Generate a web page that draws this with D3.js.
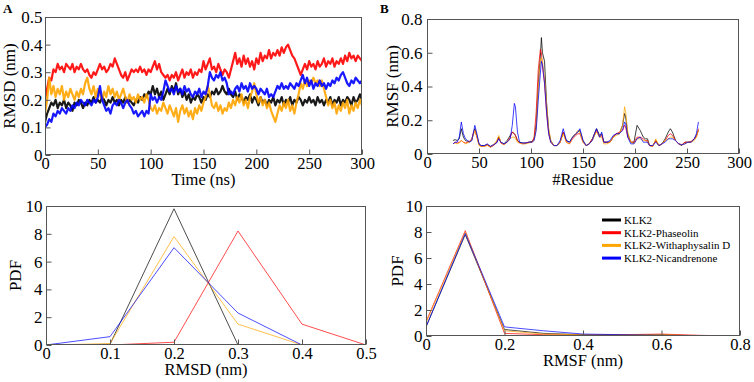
<!DOCTYPE html>
<html><head><meta charset="utf-8">
<script src="https://cdn.jsdelivr.net/npm/d3@7"></script>
<style>
body{margin:0;background:#fff;}
</style></head>
<body><svg id="c" width="754" height="382" font-family="'Liberation Serif','Times New Roman',serif"></svg>
<script>
const seriesNames = ["KLK2","KLK2-Phaseolin","KLK2-Withaphysalin D","KLK2-Nicandrenone"];
const seriesColors = ["#000000","#ff0000","#ffa500","#0000ff"];

// Panel A: RMSD vs time, one value every 2 ns (0..300)
const timeStepNs = 2;
const rmsdKLK2 = [
0.12,0.15,0.17,0.19,0.18,0.20,0.17,0.19,0.18,0.20,
0.17,0.19,0.18,0.16,0.19,0.18,0.20,0.19,0.17,0.19,
0.18,0.20,0.19,0.21,0.19,0.20,0.19,0.21,0.20,0.18,
0.20,0.19,0.21,0.19,0.20,0.18,0.20,0.19,0.21,0.19,
0.20,0.19,0.18,0.20,0.19,0.21,0.20,0.22,0.21,0.23,
0.22,0.25,0.22,0.24,0.21,0.23,0.20,0.22,0.24,0.22,
0.25,0.23,0.26,0.22,0.24,0.21,0.23,0.20,0.22,0.19,
0.21,0.20,0.22,0.21,0.19,0.21,0.20,0.22,0.21,0.23,
0.22,0.24,0.22,0.23,0.25,0.23,0.22,0.24,0.22,0.21,
0.23,0.20,0.22,0.21,0.19,0.21,0.20,0.22,0.19,0.21,
0.20,0.18,0.21,0.19,0.20,0.18,0.20,0.19,0.21,0.18,
0.20,0.19,0.21,0.18,0.20,0.19,0.21,0.18,0.20,0.19,
0.21,0.20,0.18,0.20,0.19,0.21,0.19,0.20,0.18,0.21,
0.19,0.20,0.18,0.20,0.19,0.21,0.18,0.20,0.19,0.21,
0.18,0.20,0.19,0.21,0.20,0.18,0.21,0.19,0.20,0.22,
0.20];
const rmsdPhaseolin = [
0.20,0.24,0.28,0.27,0.31,0.30,0.33,0.31,0.32,0.30,
0.33,0.32,0.31,0.33,0.30,0.32,0.31,0.33,0.31,0.30,
0.31,0.29,0.28,0.30,0.29,0.31,0.33,0.31,0.32,0.30,
0.31,0.33,0.32,0.35,0.33,0.31,0.29,0.28,0.30,0.27,
0.29,0.31,0.30,0.31,0.30,0.32,0.30,0.31,0.29,0.31,
0.30,0.32,0.34,0.31,0.33,0.30,0.29,0.28,0.29,0.27,
0.29,0.28,0.30,0.27,0.29,0.31,0.28,0.30,0.29,0.31,
0.28,0.30,0.29,0.31,0.30,0.34,0.31,0.33,0.35,0.31,
0.32,0.30,0.33,0.31,0.29,0.31,0.30,0.28,0.31,0.34,
0.37,0.33,0.35,0.32,0.36,0.33,0.35,0.32,0.34,0.31,
0.35,0.33,0.37,0.34,0.36,0.35,0.38,0.35,0.37,0.36,
0.38,0.36,0.39,0.37,0.39,0.40,0.38,0.36,0.35,0.33,
0.31,0.29,0.31,0.33,0.31,0.34,0.32,0.33,0.31,0.34,
0.32,0.33,0.35,0.32,0.34,0.33,0.35,0.32,0.34,0.33,
0.35,0.33,0.36,0.34,0.37,0.35,0.36,0.34,0.36,0.35,
0.34];
const rmsdWithaphysalin = [
0.15,0.20,0.28,0.22,0.25,0.21,0.24,0.22,0.25,0.20,
0.23,0.21,0.24,0.22,0.20,0.23,0.21,0.24,0.22,0.26,
0.28,0.24,0.22,0.25,0.21,0.24,0.22,0.20,0.23,0.21,
0.25,0.22,0.24,0.21,0.23,0.20,0.22,0.24,0.21,0.19,
0.22,0.20,0.21,0.19,0.22,0.20,0.21,0.19,0.22,0.20,
0.17,0.16,0.18,0.15,0.17,0.16,0.19,0.17,0.15,0.18,
0.16,0.14,0.17,0.12,0.16,0.18,0.15,0.17,0.14,0.16,
0.13,0.17,0.15,0.18,0.16,0.19,0.21,0.25,0.22,0.18,
0.17,0.19,0.16,0.18,0.15,0.17,0.16,0.19,0.17,0.20,
0.18,0.21,0.19,0.22,0.18,0.20,0.17,0.21,0.23,0.26,
0.22,0.19,0.21,0.18,0.20,0.17,0.19,0.16,0.14,0.12,
0.15,0.18,0.16,0.19,0.17,0.20,0.16,0.18,0.15,0.19,
0.22,0.26,0.24,0.27,0.25,0.27,0.26,0.28,0.26,0.27,
0.25,0.27,0.24,0.21,0.18,0.20,0.17,0.19,0.15,0.18,
0.16,0.19,0.17,0.20,0.15,0.18,0.16,0.19,0.17,0.20,
0.18];
const rmsdNicandrenone = [
0.10,0.11,0.13,0.12,0.15,0.14,0.16,0.15,0.17,0.16,
0.15,0.17,0.16,0.18,0.17,0.19,0.18,0.20,0.19,0.18,
0.20,0.19,0.18,0.20,0.19,0.21,0.25,0.20,0.18,0.16,
0.17,0.15,0.18,0.19,0.18,0.20,0.19,0.17,0.19,0.20,
0.18,0.17,0.15,0.16,0.14,0.15,0.16,0.14,0.16,0.15,
0.22,0.20,0.21,0.19,0.21,0.20,0.23,0.27,0.25,0.23,
0.24,0.22,0.25,0.23,0.24,0.22,0.25,0.23,0.24,0.22,
0.21,0.23,0.22,0.24,0.21,0.23,0.22,0.25,0.30,0.28,
0.27,0.29,0.28,0.30,0.27,0.28,0.26,0.22,0.23,0.22,
0.24,0.25,0.23,0.26,0.24,0.25,0.23,0.26,0.24,0.25,
0.24,0.22,0.24,0.23,0.22,0.24,0.21,0.22,0.21,0.23,
0.25,0.24,0.26,0.24,0.25,0.24,0.26,0.25,0.24,0.26,
0.25,0.27,0.29,0.26,0.28,0.25,0.27,0.24,0.26,0.25,
0.27,0.25,0.26,0.24,0.26,0.25,0.27,0.26,0.28,0.27,
0.29,0.30,0.28,0.26,0.25,0.27,0.26,0.28,0.27,0.26,
0.27];

// Panel B: RMSF per residue
const residues = [
25,27,29,31,33,35,37,39,41,43,
45,46,48,50,52,55,58,61,64,67,
69,71,74,77,80,82,84,85,87,89,
92,95,98,101,103,105,107,109,110,111,
113,115,117,119,122,125,128,131,134,137,
140,143,145,147,150,153,156,159,161,163,
166,168,170,173,176,179,182,185,188,190,
191,193,196,199,202,205,208,210,212,214,
217,220,223,226,229,232,234,236,239,242,
245,248,251,254,257,259,261];
const rmsfKLK2 = [
0.08,0.085,0.08,0.09,0.15,0.10,0.08,0.075,0.075,0.08,
0.13,0.15,0.11,0.06,0.05,0.05,0.055,0.045,0.055,0.07,
0.10,0.07,0.06,0.08,0.11,0.13,0.12,0.11,0.08,0.07,
0.065,0.065,0.07,0.075,0.09,0.18,0.42,0.58,0.69,0.60,
0.55,0.30,0.14,0.08,0.05,0.05,0.07,0.13,0.08,0.07,
0.10,0.12,0.13,0.14,0.08,0.05,0.06,0.09,0.12,0.15,
0.11,0.12,0.07,0.07,0.07,0.10,0.12,0.12,0.17,0.24,
0.22,0.12,0.07,0.07,0.17,0.14,0.10,0.09,0.09,0.05,
0.05,0.08,0.05,0.06,0.09,0.13,0.15,0.13,0.08,0.06,
0.05,0.07,0.07,0.07,0.09,0.11,0.14];
const rmsfPhaseolin = [
0.06,0.07,0.065,0.07,0.08,0.07,0.065,0.07,0.075,0.09,
0.13,0.14,0.10,0.055,0.045,0.045,0.055,0.04,0.05,0.07,
0.10,0.065,0.055,0.07,0.10,0.13,0.12,0.11,0.08,0.065,
0.06,0.065,0.07,0.07,0.10,0.25,0.50,0.62,0.60,0.52,
0.42,0.24,0.12,0.07,0.05,0.05,0.07,0.13,0.07,0.06,
0.09,0.11,0.12,0.12,0.07,0.05,0.06,0.09,0.11,0.14,
0.10,0.11,0.07,0.07,0.07,0.10,0.12,0.13,0.14,0.17,
0.16,0.10,0.07,0.07,0.10,0.10,0.09,0.08,0.08,0.05,
0.045,0.08,0.05,0.06,0.08,0.11,0.12,0.11,0.08,0.06,
0.055,0.07,0.07,0.075,0.09,0.10,0.15];
const rmsfWithaphysalin = [
0.06,0.065,0.06,0.065,0.08,0.07,0.06,0.065,0.07,0.085,
0.12,0.14,0.10,0.05,0.045,0.045,0.05,0.04,0.055,0.08,
0.11,0.07,0.055,0.07,0.09,0.10,0.10,0.09,0.07,0.065,
0.06,0.06,0.065,0.07,0.08,0.15,0.38,0.55,0.57,0.55,
0.45,0.30,0.15,0.08,0.05,0.05,0.07,0.12,0.07,0.06,
0.10,0.12,0.14,0.13,0.07,0.05,0.06,0.08,0.11,0.13,
0.10,0.10,0.06,0.06,0.07,0.10,0.11,0.12,0.17,0.28,
0.25,0.13,0.07,0.06,0.09,0.09,0.08,0.08,0.07,0.05,
0.045,0.09,0.05,0.06,0.08,0.09,0.10,0.10,0.08,0.06,
0.055,0.06,0.07,0.07,0.08,0.10,0.14];
const rmsfNicandrenone = [
0.06,0.07,0.07,0.10,0.19,0.12,0.09,0.08,0.07,0.08,
0.14,0.17,0.12,0.06,0.05,0.05,0.06,0.045,0.055,0.065,
0.09,0.07,0.06,0.07,0.09,0.17,0.30,0.28,0.13,0.07,
0.065,0.065,0.07,0.07,0.08,0.14,0.32,0.48,0.55,0.53,
0.42,0.25,0.12,0.07,0.05,0.05,0.08,0.15,0.08,0.07,
0.10,0.12,0.13,0.15,0.08,0.05,0.06,0.08,0.12,0.15,
0.10,0.13,0.07,0.07,0.08,0.11,0.12,0.12,0.14,0.19,
0.18,0.10,0.06,0.06,0.09,0.10,0.07,0.07,0.07,0.05,
0.05,0.07,0.05,0.06,0.07,0.09,0.09,0.09,0.08,0.06,
0.055,0.06,0.07,0.07,0.09,0.12,0.19];

// Panel C: PDF of RMSD
const pdfRmsdBins = [0,0.1,0.2,0.3,0.4,0.5];
const pdfRmsdKLK2 = [0,0.05,9.8,0,0,0];
const pdfRmsdPhaseolin = [0,0,0.2,8.2,1.5,0];
const pdfRmsdWithaphysalin = [0,0.1,7.8,1.5,0,0];
const pdfRmsdNicandrenone = [0,0.6,7.0,2.3,0,0];

// Panel D: PDF of RMSF
const pdfRmsfBins = [0,0.1,0.2,0.3,0.4,0.5,0.6,0.7,0.8];
const pdfRmsfKLK2 = [0.7,7.8,0.5,0.2,0.1,0.1,0.1,0,0];
const pdfRmsfPhaseolin = [1.1,8.1,0.2,0.1,0.05,0.1,0.15,0.05,0];
const pdfRmsfWithaphysalin = [1.0,8.0,0.4,0.15,0.1,0.1,0.1,0,0];
const pdfRmsfNicandrenone = [0.7,7.9,0.7,0.4,0.15,0.1,0.05,0,0];

const ticksA_x = [0,50,100,150,200,250,300], ticksA_y = [0,0.1,0.2,0.3,0.4,0.5];
const ticksB_x = [0,50,100,150,200,250,300], ticksB_y = [0,0.2,0.4,0.6,0.8];
const ticksC_x = [0,0.1,0.2,0.3,0.4,0.5], ticksC_y = [0,2,4,6,8,10];
const ticksD_x = [0,0.2,0.4,0.6,0.8], ticksD_y = [0,2,4,6,8,10];

const FONT = "'Liberation Serif','Times New Roman',serif";
const svg = d3.select("#c");
const fmt = v => v === 0 ? "0" : String(+v.toFixed(2));

function panel(o){
  const x = d3.scaleLinear().domain(o.xd).range([o.l,o.r]);
  const y = d3.scaleLinear().domain(o.yd).range([o.b,o.t]);
  const g = svg.append("g");
  const clipId = "clip"+o.id;
  svg.append("clipPath").attr("id",clipId).append("rect")
    .attr("x",o.l).attr("y",o.t-1).attr("width",o.r-o.l).attr("height",o.b-o.t+1);
  const lg = g.append("g").attr("clip-path",`url(#${clipId})`);
  o.series.forEach((s,i)=>{
    const line = d3.line().x((d,j)=>x(o.xs(j))).y(d=>y(d));
    lg.append("path").attr("d",line(s)).attr("fill","none")
      .attr("stroke",seriesColors[i]).attr("stroke-width",o.sw)
      .attr("stroke-opacity",o.op).attr("stroke-linejoin","round");
  });
  g.append("rect").attr("x",o.l+0.5).attr("y",o.t+0.5).attr("width",o.r-o.l-1).attr("height",o.b-o.t-1)
    .attr("fill","none").attr("stroke","#555").attr("stroke-width",1);
  const xa = d3.axisBottom(x).tickValues(o.xt).tickSize(-5).tickPadding(3).tickFormat(fmt);
  const gx = g.append("g").attr("transform",`translate(0,${o.b-0.5})`).call(xa);
  const ya = d3.axisLeft(y).tickValues(o.yt).tickSize(-5).tickPadding(o.yp).tickFormat(fmt);
  const gy = g.append("g").attr("transform",`translate(${o.l+0.5},0)`).call(ya);
  [gx,gy].forEach(a=>{
    a.attr("font-family",FONT).attr("font-size",17);
    a.select(".domain").remove();
    a.selectAll("line").attr("stroke","#555");
    a.selectAll("text").attr("fill","#000");
  });
  gx.attr("font-size",16.5);
  gx.selectAll("text").attr("dy","0.72em");
  g.append("text").attr("x",(o.l+o.r)/2).attr("y",o.xtY).attr("text-anchor","middle")
    .attr("font-size",16.5).text(o.xt_label);
  g.append("text").attr("transform",`translate(${o.ytX},${(o.t+o.b)/2}) rotate(-90)`)
    .attr("text-anchor","middle").attr("font-size",17).text(o.yt_label);
  return {x,y,g};
}

panel({id:"A",l:45,r:362,t:17,b:155,xd:[0,300],yd:[0,0.5],xt:ticksA_x,yt:ticksA_y,yp:3,
  series:[rmsdKLK2,rmsdPhaseolin,rmsdWithaphysalin,rmsdNicandrenone],xs:j=>j*timeStepNs,sw:2.2,op:0.9,
  xt_label:"Time (ns)",yt_label:"RMSD (nm)",xtY:185,ytX:15});
panel({id:"B",l:427,r:739,t:19,b:154,xd:[0,300],yd:[0,0.8],xt:ticksB_x,yt:ticksB_y,yp:5,
  series:[rmsfKLK2,rmsfPhaseolin,rmsfWithaphysalin,rmsfNicandrenone],xs:j=>residues[j],sw:1,op:0.75,
  xt_label:"#Residue",yt_label:"RMSF (nm)",xtY:185,ytX:398});
panel({id:"C",l:46,r:366,t:206,b:345,xd:[0,0.5],yd:[0,10],xt:ticksC_x,yt:ticksC_y,yp:4,
  series:[pdfRmsdKLK2,pdfRmsdPhaseolin,pdfRmsdWithaphysalin,pdfRmsdNicandrenone],xs:j=>pdfRmsdBins[j],sw:1,op:0.7,
  xt_label:"RMSD (nm)",yt_label:"PDF",xtY:375,ytX:21});
panel({id:"D",l:426,r:740,t:206,b:336,xd:[0,0.8],yd:[0,10],xt:ticksD_x,yt:ticksD_y,yp:4,
  series:[pdfRmsfKLK2,pdfRmsfPhaseolin,pdfRmsfWithaphysalin,pdfRmsfNicandrenone],xs:j=>pdfRmsfBins[j],sw:1,op:0.7,
  xt_label:"RMSF (nm)",yt_label:"PDF",xtY:366,ytX:403});

// legend
const leg = svg.append("g");
seriesNames.forEach((n,i)=>{
  const yy = 220 + i*12.7;
  leg.append("line").attr("x1",602).attr("x2",621).attr("y1",yy).attr("y2",yy)
    .attr("stroke",seriesColors[i]).attr("stroke-width",3);
  leg.append("text").attr("x",624).attr("y",yy+3.8).attr("font-size",11).text(n);
});

svg.append("text").attr("x",3).attr("y",13).attr("font-weight","bold").attr("font-size",13).text("A");
svg.append("text").attr("x",380).attr("y",13).attr("font-weight","bold").attr("font-size",13).text("B");
</script></body></html>
